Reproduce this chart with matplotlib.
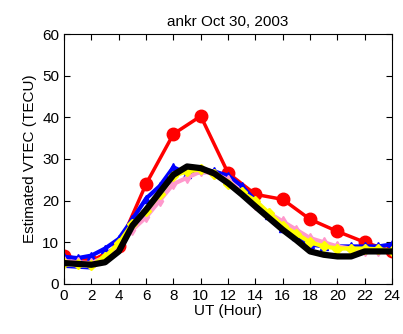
import matplotlib
matplotlib.use("Agg")
import matplotlib.pyplot as plt

plt.rcParams['font.family'] = ['Liberation Sans', 'DejaVu Sans']

hours = list(range(25))
hours_2 = list(range(0, 25, 2))

# red: 2-hourly estimate
red_vals = [6.7, 5.5, 9.0, 24.0, 36.0, 40.3, 26.6, 21.5, 20.3, 15.5, 12.6, 10.0, 7.8]
# blue: hourly
blue_vals = [6.5, 6.2, 6.8, 8.5, 10.8, 15.5, 20.5, 23.5, 28.0, 26.5, 27.5, 27.0, 26.0,
             23.5, 20.0, 16.5, 13.5, 11.5, 9.5, 9.0, 9.0, 9.0, 9.0, 9.0, 9.5]
blue_thin_hours = [0, 1, 2, 3, 4]
blue_thin_vals = [4.0, 3.8, 3.6, 6.0, 9.5]
yellow_vals = [5.0, 4.8, 4.5, 6.5, 9.8, 14.5, 17.5, 21.5, 26.0, 27.0, 27.5, 26.5, 24.0,
               22.0, 20.0, 17.0, 14.0, 12.0, 10.0, 9.0, 8.5, 8.5, 8.5, 8.3, 8.0]
pink_vals = [5.5, 5.2, 5.0, 6.5, 9.0, 13.0, 16.0, 20.0, 24.0, 25.5, 27.0, 26.5, 25.0,
             22.0, 19.0, 17.0, 15.0, 13.0, 11.0, 10.0, 9.0, 8.5, 8.0, 8.0, 8.0]
black_vals = [5.0, 4.8, 4.6, 5.2, 7.8, 14.0, 17.8, 22.0, 26.2, 28.2, 27.8, 26.5, 24.2,
              21.5, 18.6, 15.8, 13.0, 10.5, 7.8, 7.0, 6.6, 6.6, 7.8, 7.8, 7.8]

fig = plt.figure(figsize=(4.03, 3.34), dpi=100)
ax = fig.add_axes([0.159, 0.150, 0.814, 0.748])

ax.plot(blue_thin_hours, blue_thin_vals, color='blue', linewidth=1.0)
ax.plot(hours_2, red_vals, color='red', linewidth=2.5, marker='o', markersize=9)
ax.plot(hours, blue_vals, color='blue', linewidth=3, marker='^', markersize=6)
ax.plot(hours, pink_vals, color='#ff99cc', linewidth=3, marker='d', markersize=5)
ax.plot(hours, yellow_vals, color='yellow', linewidth=3, marker='D', markersize=5)
ax.plot(hours, black_vals, color='black', linewidth=4.5)

ax.set_xlim(0, 24)
ax.set_ylim(0, 60)
ax.set_xticks(range(0, 25, 2))
ax.set_yticks(range(0, 61, 10))
ax.tick_params(direction='in', top=True, right=True, labelsize=11, length=4)

ax.set_title('ankr Oct 30, 2003', fontsize=11)
ax.set_xlabel('UT (Hour)', fontsize=11, labelpad=1)
ax.set_ylabel('Estimated VTEC (TECU)', fontsize=11)

fig.savefig('out.png', dpi=100)
